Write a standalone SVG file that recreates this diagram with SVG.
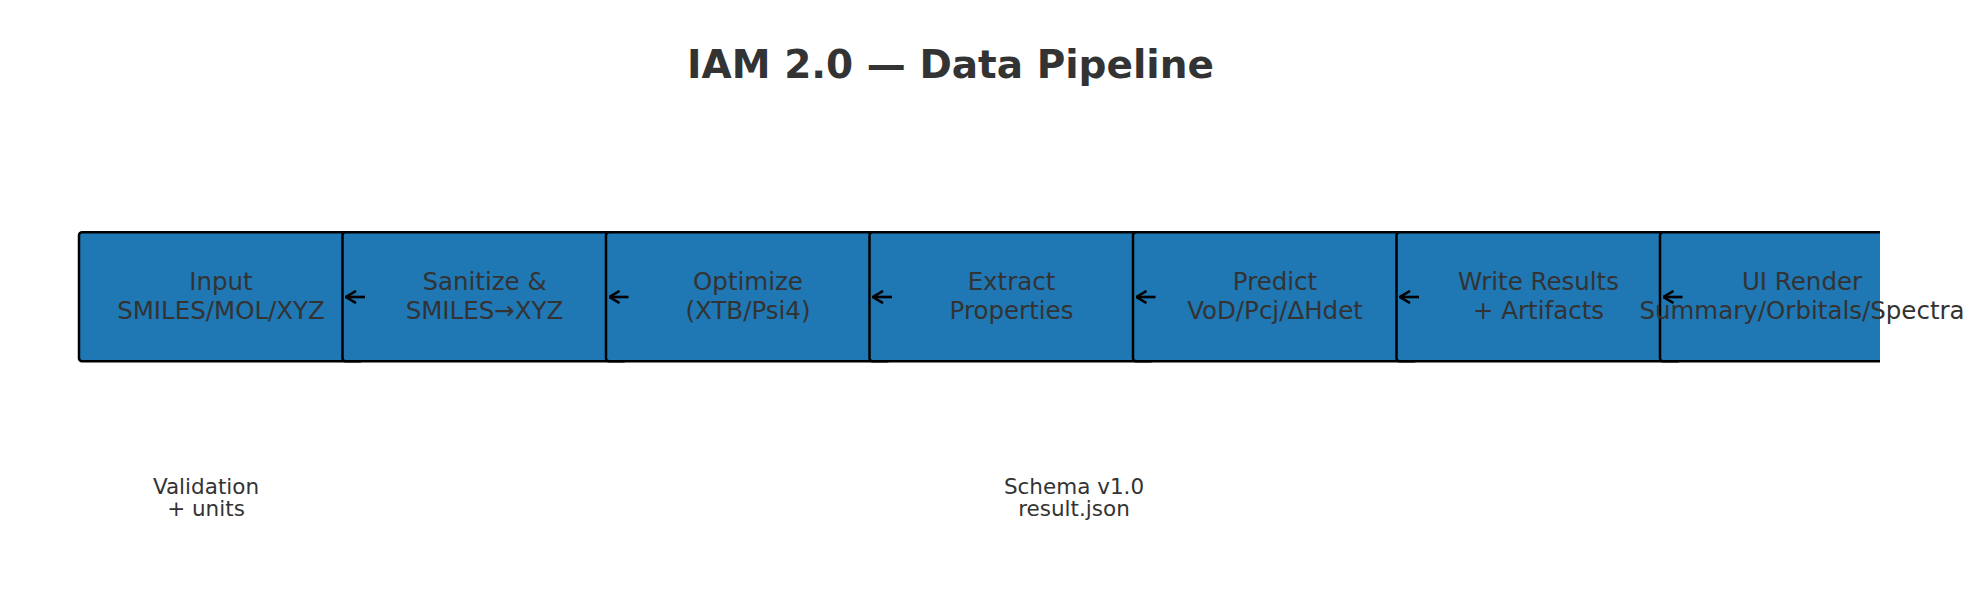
<svg xmlns="http://www.w3.org/2000/svg" width="1988" height="594" viewBox="0 0 1988 594">
  <style>
    .box { fill: #1f77b4; stroke: #000000; stroke-width: 2.5; }
    .lbl { font-family: "DejaVu Sans", "Liberation Sans", sans-serif; font-size: 24.5px; fill: #333333; text-anchor: middle; }
    .note { font-family: "DejaVu Sans", "Liberation Sans", sans-serif; font-size: 21.5px; fill: #333333; text-anchor: middle; }
    .title { font-family: "DejaVu Sans", "Liberation Sans", sans-serif; font-size: 39px; font-weight: bold; fill: #333333; text-anchor: middle; }
    .arrow { fill: none; stroke: #000000; stroke-width: 2.6; stroke-linecap: butt; stroke-linejoin: miter; }
  </style>
  <defs>
    <clipPath id="axes">
      <rect x="0" y="0" width="1880" height="594"/>
    </clipPath>
    <marker id="head" viewBox="0 0 12 14" refX="11" refY="7" markerWidth="12" markerHeight="14" markerUnits="userSpaceOnUse" orient="auto">
      <path d="M1,1 L11,7 L1,13" fill="none" stroke="#000" stroke-width="2.6"/>
    </marker>
  </defs>
  <rect width="1988" height="594" fill="#ffffff"/>
  <text class="title" x="950.5" y="77.5">IAM 2.0 — Data Pipeline</text>

  <g clip-path="url(#axes)">
    <g id="node-input">
      <rect class="box" x="79" y="232.3" width="284" height="129" rx="3"/>
    </g>
    <g id="node-sanitize">
      <rect class="box" x="342.5" y="232.3" width="284" height="129" rx="3"/>
    </g>
    <g id="node-optimize">
      <rect class="box" x="606" y="232.3" width="284" height="129" rx="3"/>
    </g>
    <g id="node-extract">
      <rect class="box" x="869.5" y="232.3" width="284" height="129" rx="3"/>
    </g>
    <g id="node-predict">
      <rect class="box" x="1133" y="232.3" width="284" height="129" rx="3"/>
    </g>
    <g id="node-write">
      <rect class="box" x="1396.5" y="232.3" width="284" height="129" rx="3"/>
    </g>
    <g id="node-ui">
      <rect class="box" x="1660" y="232.3" width="284" height="129" rx="3"/>
    </g>
    <g id="connectors">
      <path class="arrow" d="M365,297 L346,297" marker-end="url(#head)"/>
      <path class="arrow" d="M628.5,297 L609.5,297" marker-end="url(#head)"/>
      <path class="arrow" d="M892,297 L873,297" marker-end="url(#head)"/>
      <path class="arrow" d="M1155.5,297 L1136.5,297" marker-end="url(#head)"/>
      <path class="arrow" d="M1419,297 L1400,297" marker-end="url(#head)"/>
      <path class="arrow" d="M1682.5,297 L1663.5,297" marker-end="url(#head)"/>
    </g>
  </g>

  <g id="labels">
    <text class="lbl" x="221" y="290">Input</text>
    <text class="lbl" x="221" y="319">SMILES/MOL/XYZ</text>
    <text class="lbl" x="484.5" y="290">Sanitize &amp;</text>
    <text class="lbl" x="484.5" y="319">SMILES→XYZ</text>
    <text class="lbl" x="748" y="290">Optimize</text>
    <text class="lbl" x="748" y="319">(XTB/Psi4)</text>
    <text class="lbl" x="1011.5" y="290">Extract</text>
    <text class="lbl" x="1011.5" y="319">Properties</text>
    <text class="lbl" x="1275" y="290">Predict</text>
    <text class="lbl" x="1275" y="319">VoD/Pcj/ΔHdet</text>
    <text class="lbl" x="1538.5" y="290">Write Results</text>
    <text class="lbl" x="1538.5" y="319">+ Artifacts</text>
    <text class="lbl" x="1802" y="290">UI Render</text>
    <text class="lbl" x="1802" y="319">Summary/Orbitals/Spectra</text>
  </g>

  <g id="notes">
    <text class="note" x="206" y="493.5">Validation</text>
    <text class="note" x="206" y="515.5">+ units</text>
    <text class="note" x="1074" y="493.5">Schema v1.0</text>
    <text class="note" x="1074" y="515.5">result.json</text>
  </g>
</svg>
